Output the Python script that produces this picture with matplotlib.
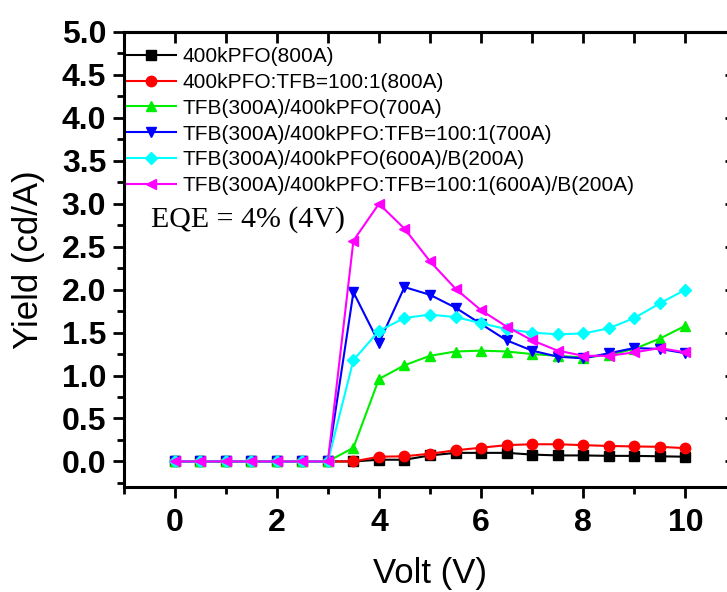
import matplotlib
matplotlib.use("Agg")
import matplotlib.pyplot as plt
from matplotlib.ticker import MultipleLocator, FormatStrFormatter

volt = [0, 0.5, 1, 1.5, 2, 2.5, 3, 3.5, 4, 4.5, 5, 5.5, 6, 6.5, 7, 7.5, 8, 8.5, 9, 9.5, 10]
zeros = [0.0] * 7

pfo = zeros + [0.0, 0.02, 0.02, 0.07, 0.10, 0.10, 0.10, 0.08, 0.07, 0.07, 0.065, 0.065, 0.06, 0.055]
pfo_tfb = zeros + [0.0, 0.055, 0.06, 0.09, 0.13, 0.16, 0.19, 0.20, 0.20, 0.19, 0.18, 0.175, 0.17, 0.155]
tfb_pfo = zeros + [0.16, 0.96, 1.12, 1.23, 1.28, 1.29, 1.28, 1.25, 1.23, 1.21, 1.24, 1.31, 1.43, 1.58]
tfb_pfotfb = zeros + [1.97, 1.38, 2.03, 1.94, 1.79, 1.60, 1.41, 1.29, 1.22, 1.20, 1.26, 1.32, 1.31, 1.26]
tfb_pfo_b = zeros + [1.18, 1.52, 1.67, 1.71, 1.68, 1.61, 1.54, 1.50, 1.48, 1.49, 1.55, 1.67, 1.84, 2.00]
tfb_pfotfb_b = zeros + [2.57, 3.00, 2.71, 2.33, 2.01, 1.76, 1.57, 1.41, 1.29, 1.23, 1.23, 1.27, 1.32, 1.27]

series = [
    (pfo, "400kPFO(800A)", "black", "s"),
    (pfo_tfb, "400kPFO:TFB=100:1(800A)", "red", "o"),
    (tfb_pfo, "TFB(300A)/400kPFO(700A)", "#00ee00", "^"),
    (tfb_pfotfb, "TFB(300A)/400kPFO:TFB=100:1(700A)", "blue", "v"),
    (tfb_pfo_b, "TFB(300A)/400kPFO(600A)/B(200A)", "cyan", "D"),
    (tfb_pfotfb_b, "TFB(300A)/400kPFO:TFB=100:1(600A)/B(200A)", "magenta", "<"),
]

plt.rcParams['font.family'] = ['Liberation Sans', 'DejaVu Sans']

fig = plt.figure(figsize=(7.27, 5.92), dpi=100)
ax = fig.add_axes([0.170, 0.177, 0.843, 0.769])

for y, label, color, marker in series:
    ms = 6.5 if marker == "D" else 7.5
    ax.plot(volt, y, color=color, marker=marker, ms=ms, lw=1.5, label=label)

ax.set_xlim(-1, 11)
ax.set_ylim(-0.3, 5.0)
ax.xaxis.set_major_locator(MultipleLocator(2))
ax.xaxis.set_minor_locator(MultipleLocator(1))
ax.yaxis.set_major_locator(MultipleLocator(0.5))
ax.yaxis.set_minor_locator(MultipleLocator(0.25))
ax.yaxis.set_major_formatter(FormatStrFormatter('%.1f'))

for sp in ax.spines.values():
    sp.set_linewidth(2.2)

ax.tick_params(axis='both', which='major', direction='out', length=8, width=2,
               labelsize=23)
ax.tick_params(axis='x', which='major', pad=7)
ax.tick_params(axis='y', which='major', pad=4.5)
ax.tick_params(axis='both', which='minor', direction='out', length=5, width=2)
for t in ax.get_xticklabels() + ax.get_yticklabels():
    t.set_fontweight('bold')

# mirrored top/right ticks pointing inward
top = ax.secondary_xaxis('top')
top.xaxis.set_major_locator(MultipleLocator(1))
top.tick_params(direction='in', length=8, width=2, labeltop=False)
top.spines['top'].set_linewidth(2.2)
right = ax.secondary_yaxis('right')
right.yaxis.set_major_locator(MultipleLocator(0.5))
right.tick_params(direction='in', length=8, width=2, labelright=False)
right.spines['right'].set_linewidth(2.2)

ax.set_xlabel("Volt (V)", fontsize=25, labelpad=14)
ax.set_ylabel("Yield (cd/A)", fontsize=25, labelpad=12)

ax.text(-0.47, 2.73, "EQE = 4% (4V)", fontsize=21.5, va='baseline',
        family=['Liberation Serif', 'DejaVu Serif'])

ax.legend(loc='upper left', bbox_to_anchor=(0.0055, 0.967), frameon=False,
          fontsize=15, handlelength=2.35, handletextpad=0.3,
          labelspacing=0.33, borderaxespad=0, borderpad=0)

fig.savefig("out.png", dpi=100)
